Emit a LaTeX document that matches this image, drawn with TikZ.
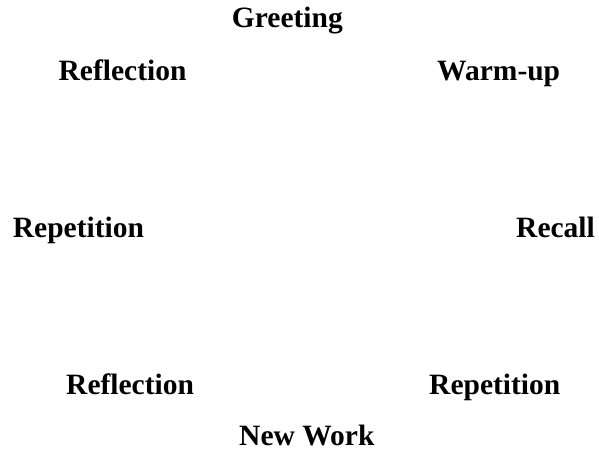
\documentclass[tikz,border=0pt]{standalone}
\usepackage{fontspec}
\setmainfont{Liberation Serif}
\begin{document}
\begin{tikzpicture}[x=1pt,y=1pt,
  lbl/.style={anchor=base west,inner sep=0pt,font=\bfseries\fontsize{29.5}{35}\selectfont}]
\useasboundingbox (0,0) rectangle (599,451);
\node[lbl] (greet) at (231.7,423) {Greeting};
\node[lbl] (refla) at (58.5,370.5) {Reflection};
\node[lbl] (warm) at (437,370.5) {Warm-up};
\node[lbl] (repa) at (12.7,214) {Repetition};
\node[lbl] (recall) at (516,214) {Recall};
\node[lbl] (reflb) at (66,57) {Reflection};
\node[lbl] (repb) at (429,57) {Repetition};
\node[lbl] (newwork) at (239,6) {New Work};
\end{tikzpicture}
\end{document}
